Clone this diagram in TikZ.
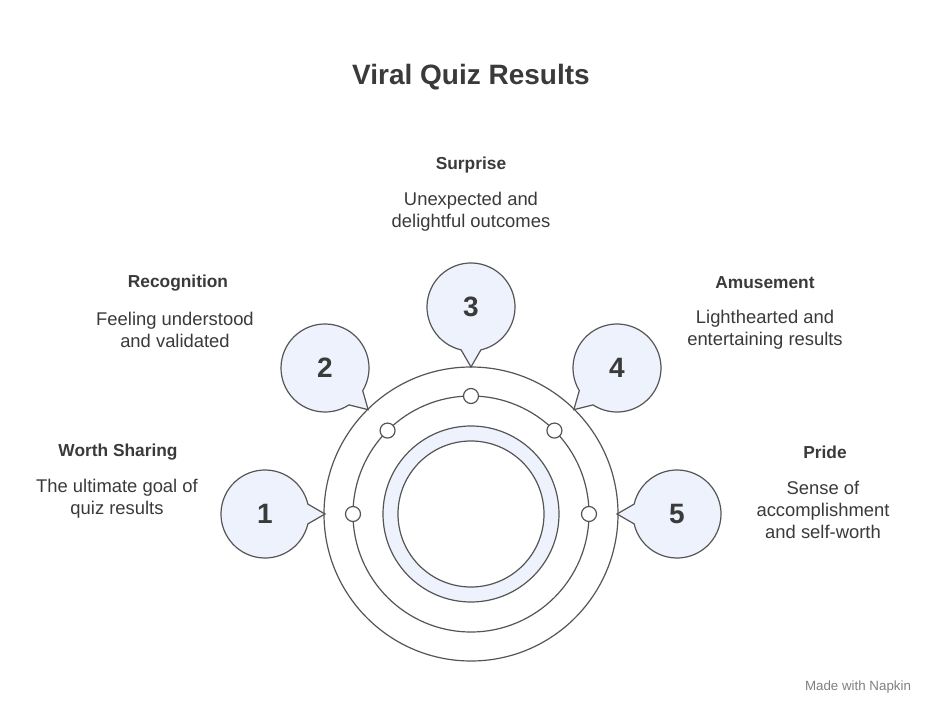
\documentclass[tikz,border=0pt]{standalone}
\usepackage{fontspec}
\setmainfont{Liberation Sans}
\usetikzlibrary{calc}
\definecolor{fillb}{HTML}{EDF2FC}
\definecolor{strk}{HTML}{555555}
\definecolor{txt}{HTML}{3A3A3A}
\begin{document}
\begin{tikzpicture}[x=0.75pt,y=-0.75pt,
  ln/.style={draw=strk,line width=0.9pt},
  head/.style={font=\bfseries\fontsize{13}{16}\selectfont,text=txt,align=center},
  desc/.style={font=\fontsize{13.8}{16.5}\selectfont,text=txt,align=center},
  num/.style={font=\bfseries\fontsize{21}{24}\selectfont,text=txt}]
\useasboundingbox[fill=white] (0,0) rectangle (943,720);
\coordinate (c) at (471,514);
\node[font=\bfseries\fontsize{21}{25}\selectfont,text=txt] (title) at (471,77) {Viral Quiz Results};
% circles
\draw[ln] (c) circle[radius=147];
\draw[ln] (c) circle[radius=118];
\draw[ln,fill=fillb,even odd rule] (c) circle[radius=88] (c) circle[radius=73];
\foreach \a in {180,-135,-90,-45,0}
  \draw[ln,fill=white] ([shift={(\a:118)}]c) circle[radius=7.5];
% bubbles
\foreach \n/\x/\y/\d in {1/265/514/0,2/325/368/44,3/471/307/90,4/617/368/136,5/677/514/180}{
  \coordinate (b\n) at (\x,\y);
  \coordinate (t\n) at ($(b\n)+(\d:60)$);
  \draw[ln,fill=fillb] ([shift={(\d+13:44)}]b\n) arc[start angle=\d+13,end angle=\d+347,radius=44] -- (t\n) -- cycle;
  \node[num] (n\n) at (b\n) {\n};
}
% texts
\node[head] (h3) at (471,165) {Surprise};
\node[desc] (d3) at (471,212) {Unexpected and\\delightful outcomes};
\node[head] (h2) at (178,283) {Recognition};
\node[desc] (d2) at (175,330) {Feeling understood\\and validated};
\node[head] (h1) at (118,452) {Worth Sharing};
\node[desc] (d1) at (117,499) {The ultimate goal of\\quiz results};
\node[head] (h4) at (765,283) {Amusement};
\node[desc] (d4) at (765,330) {Lighthearted and\\entertaining results};
\node[head] (h5) at (825,452) {Pride};
\node[desc] (d5) at (823,510) {Sense of\\accomplishment\\and self-worth};
\node[font=\fontsize{10}{12}\selectfont,text=gray] (wm) at (858,687) {Made with Napkin};
\end{tikzpicture}
\end{document}
